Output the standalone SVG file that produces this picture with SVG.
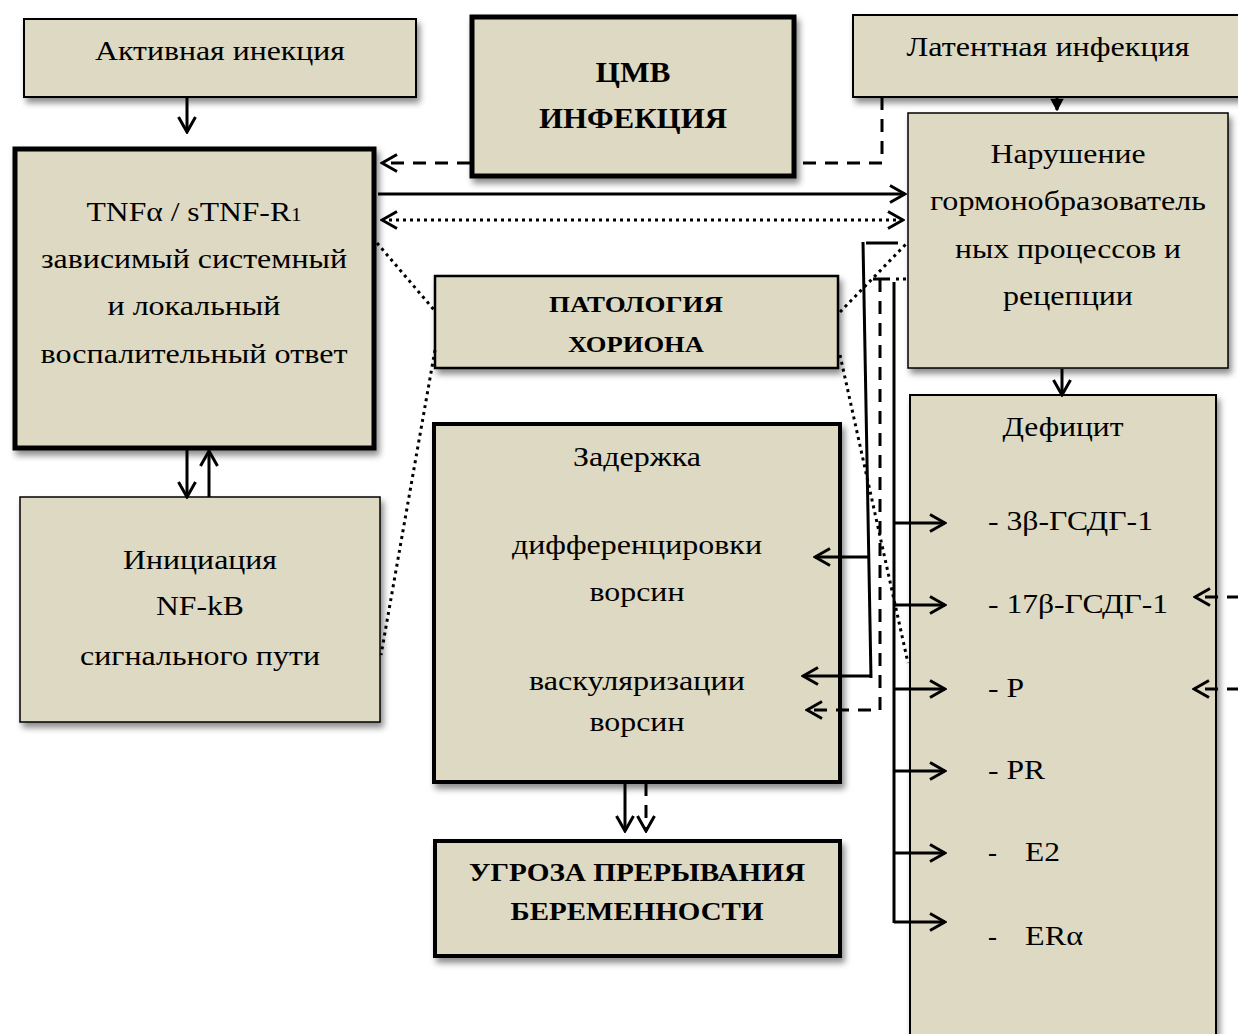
<svg xmlns="http://www.w3.org/2000/svg" width="1238" height="1034" viewBox="0 0 1238 1034">
<defs>
<filter id="sh" x="-10%" y="-10%" width="130%" height="130%">
<feDropShadow dx="3" dy="5" stdDeviation="3" flood-color="#000" flood-opacity="0.45"/>
</filter>
<marker id="ah" viewBox="0 0 20 20" refX="18" refY="10" markerWidth="20" markerHeight="20" markerUnits="userSpaceOnUse" orient="auto-start-reverse">
<path d="M3,1.5 L18,10 L3,18.5" fill="none" stroke="#000" stroke-width="3" stroke-dasharray="none"/>
</marker>
<marker id="ahs" viewBox="0 0 20 20" refX="18" refY="10" markerWidth="14" markerHeight="14" markerUnits="userSpaceOnUse" orient="auto">
<path d="M3,2 L18,10 L3,18 Z" fill="#000" stroke="#000" stroke-width="2" stroke-dasharray="none"/>
</marker>
</defs>
<style>
.box{fill:#ddd9c3;stroke:#000;filter:url(#sh)}
.t{font-family:"Liberation Serif","DejaVu Serif",serif;font-size:27px;fill:#000;text-anchor:middle}
.b{font-weight:bold}
.l{text-anchor:start}
.ln{fill:none;stroke:#000;stroke-width:3}
.ds{stroke-dasharray:13 9}
.dt{stroke-dasharray:3 4}
.arr{marker-end:url(#ah)}
</style>
<rect width="1238" height="1034" fill="#fff"/>
<g id="n-active">
<rect class="box" x="24" y="19" width="392" height="78" stroke-width="2"/>
<text class="t" x="220" y="60" textLength="250" lengthAdjust="spacingAndGlyphs">Активная инекция</text>
</g>
<g id="n-cmv">
<rect class="box" x="472" y="17" width="322" height="159" stroke-width="5"/>
<text class="t b" x="633" y="82" style="font-size:30px" textLength="75" lengthAdjust="spacingAndGlyphs">ЦМВ</text>
<text class="t b" x="633" y="128" style="font-size:30px" textLength="188" lengthAdjust="spacingAndGlyphs">ИНФЕКЦИЯ</text>
</g>
<g id="n-latent">
<rect class="box" x="853" y="15" width="400" height="82" stroke-width="2"/>
<text class="t" x="1048" y="56" textLength="283" lengthAdjust="spacingAndGlyphs">Латентная инфекция</text>
</g>
<g id="n-tnf">
<rect class="box" x="15" y="149" width="359" height="299" stroke-width="5"/>
<text class="t" x="194" y="221" textLength="215" lengthAdjust="spacingAndGlyphs">TNFα / sTNF-R<tspan style="font-size:18px">1</tspan></text>
<text class="t" x="194" y="268" textLength="306" lengthAdjust="spacingAndGlyphs">зависимый системный</text>
<text class="t" x="194" y="315" textLength="173" lengthAdjust="spacingAndGlyphs">и локальный</text>
<text class="t" x="194" y="363" textLength="307" lengthAdjust="spacingAndGlyphs">воспалительный ответ</text>
</g>
<g id="n-hormone">
<rect class="box" x="908" y="113" width="320" height="255" stroke-width="1.5"/>
<text class="t" x="1068" y="163" textLength="155" lengthAdjust="spacingAndGlyphs">Нарушение</text>
<text class="t" x="1068" y="210" textLength="276" lengthAdjust="spacingAndGlyphs">гормонобразователь</text>
<text class="t" x="1068" y="258" textLength="226" lengthAdjust="spacingAndGlyphs">ных процессов и</text>
<text class="t" x="1068" y="305" textLength="130" lengthAdjust="spacingAndGlyphs">рецепции</text>
</g>
<g id="n-chorion">
<rect class="box" x="435" y="276" width="403" height="92" stroke-width="2.5"/>
<text class="t b" x="636" y="312" style="font-size:24px" textLength="174" lengthAdjust="spacingAndGlyphs">ПАТОЛОГИЯ</text>
<text class="t b" x="636" y="352" style="font-size:24px" textLength="136" lengthAdjust="spacingAndGlyphs">ХОРИОНА</text>
</g>
<g id="n-delay">
<rect class="box" x="434" y="424" width="406" height="358" stroke-width="4"/>
<text class="t" x="637" y="466" textLength="128" lengthAdjust="spacingAndGlyphs">Задержка</text>
<text class="t" x="637" y="554" textLength="250" lengthAdjust="spacingAndGlyphs">дифференцировки</text>
<text class="t" x="637" y="601" textLength="95" lengthAdjust="spacingAndGlyphs">ворсин</text>
<text class="t" x="637" y="690" textLength="216" lengthAdjust="spacingAndGlyphs">васкуляризации</text>
<text class="t" x="637" y="731" textLength="95" lengthAdjust="spacingAndGlyphs">ворсин</text>
</g>
<g id="n-nfkb">
<rect class="box" x="20" y="497" width="360" height="225" stroke-width="1.5"/>
<text class="t" x="200" y="569" textLength="154" lengthAdjust="spacingAndGlyphs">Инициация</text>
<text class="t" x="200" y="615" textLength="88" lengthAdjust="spacingAndGlyphs">NF-kB</text>
<text class="t" x="200" y="665" textLength="240" lengthAdjust="spacingAndGlyphs">сигнального пути</text>
</g>
<g id="n-deficit">
<rect class="box" x="910" y="395" width="306" height="660" stroke-width="2"/>
<text class="t" x="1063" y="436" textLength="121" lengthAdjust="spacingAndGlyphs">Дефицит</text>
<text class="t l" x="988" y="530" textLength="165" lengthAdjust="spacingAndGlyphs">- 3β-ГСДГ-1</text>
<text class="t l" x="988" y="613" textLength="180" lengthAdjust="spacingAndGlyphs">- 17β-ГСДГ-1</text>
<text class="t l" x="988" y="697" textLength="36" lengthAdjust="spacingAndGlyphs">- P</text>
<text class="t l" x="988" y="779" textLength="57" lengthAdjust="spacingAndGlyphs">- PR</text>
<text class="t l" x="988" y="861">-</text>
<text class="t l" x="1025" y="861" textLength="35" lengthAdjust="spacingAndGlyphs">E2</text>
<text class="t l" x="988" y="945">-</text>
<text class="t l" x="1025" y="945" textLength="58" lengthAdjust="spacingAndGlyphs">ERα</text>
</g>
<g id="n-threat">
<rect class="box" x="435" y="841" width="405" height="115" stroke-width="4"/>
<text class="t b" x="637" y="881" style="font-size:26px" textLength="336" lengthAdjust="spacingAndGlyphs">УГРОЗА ПРЕРЫВАНИЯ</text>
<text class="t b" x="637" y="920" style="font-size:26px" textLength="253" lengthAdjust="spacingAndGlyphs">БЕРЕМЕННОСТИ</text>
</g>
<g id="connectors">
<path class="ln ds" d="M882,97 V163 H797"/>
<line class="ln ds arr" x1="470" y1="163" x2="382" y2="163"/>
<line class="ln arr" x1="187" y1="97" x2="187" y2="132"/>
<line class="ln arr" x1="378" y1="194" x2="905" y2="194"/>
<line class="ln dt arr" x1="382" y1="220" x2="903" y2="220" marker-start="url(#ah)"/>
<line class="ln" x1="1057" y1="98" x2="1057" y2="110" marker-end="url(#ahs)"/>
<line class="ln arr" x1="1062" y1="369" x2="1062" y2="395"/>
<line class="ln arr" x1="187" y1="450" x2="187" y2="497"/>
<line class="ln arr" x1="209" y1="497" x2="209" y2="451"/>
<line class="ln dt" x1="377" y1="243" x2="435" y2="311"/>
<line class="ln dt" x1="435" y1="350" x2="381" y2="655"/>
<line class="ln dt" x1="840" y1="312" x2="908" y2="242"/>
<line class="ln dt" x1="840" y1="355" x2="908" y2="663"/>
<line class="ln dt" x1="896" y1="279" x2="906" y2="279"/>
<path class="ln" d="M898,243 H866"/>
<line class="ln" x1="863" y1="242" x2="871" y2="678"/>
<line class="ln arr" x1="868" y1="557" x2="815" y2="557"/>
<line class="ln arr" x1="871" y1="676" x2="803" y2="676"/>
<path class="ln" d="M873,279 H890"/>
<path class="ln ds arr" d="M880,279 V710 H807"/>
<path class="ln" d="M894,282 V923"/>
<line class="ln arr" x1="894" y1="523" x2="945" y2="523"/>
<line class="ln arr" x1="894" y1="605" x2="945" y2="605"/>
<line class="ln arr" x1="894" y1="689" x2="945" y2="689"/>
<line class="ln arr" x1="894" y1="771" x2="945" y2="771"/>
<line class="ln arr" x1="894" y1="853" x2="945" y2="853"/>
<line class="ln arr" x1="894" y1="922" x2="945" y2="922"/>
<line class="ln ds arr" x1="1240" y1="597" x2="1195" y2="597"/>
<line class="ln ds arr" x1="1240" y1="689" x2="1194" y2="689"/>
<line class="ln arr" x1="625" y1="783" x2="625" y2="831"/>
<line class="ln ds arr" x1="646" y1="783" x2="646" y2="831"/>
</g>
</svg>
